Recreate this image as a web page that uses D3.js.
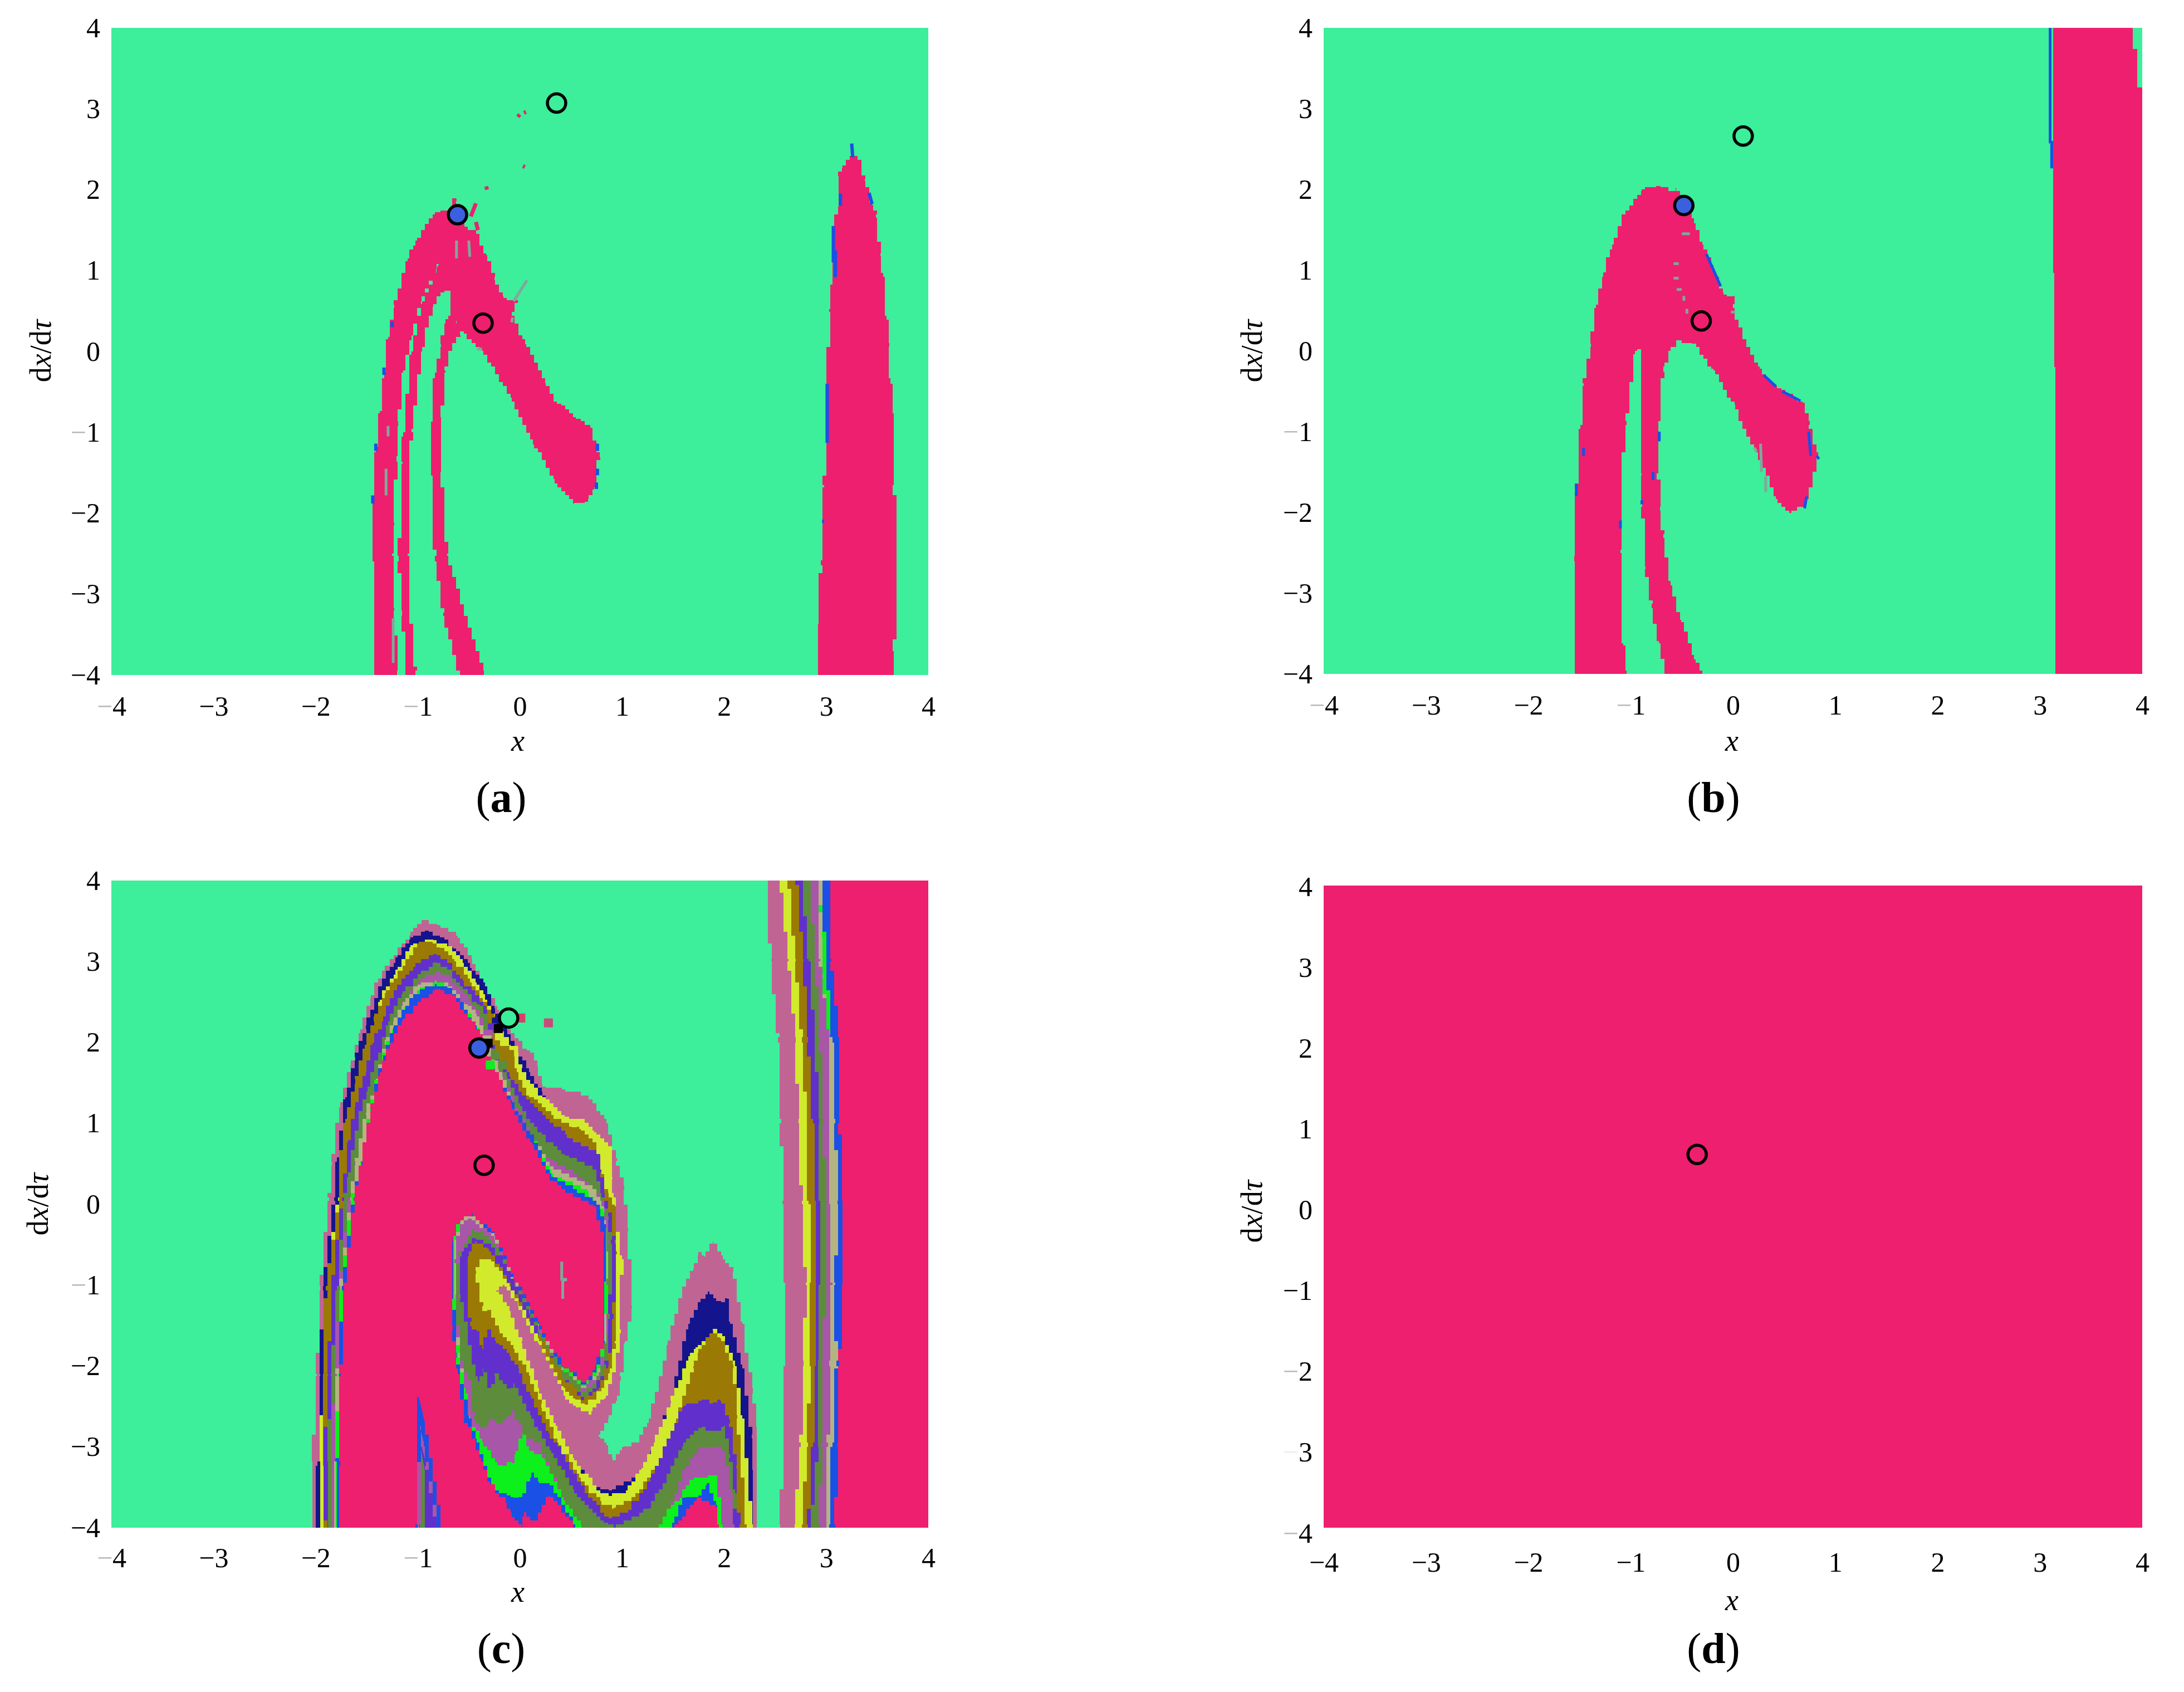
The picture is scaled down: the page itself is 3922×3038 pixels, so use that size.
<!DOCTYPE html>
<html>
<head>
<meta charset="utf-8">
<title>Basins of attraction</title>
<script src="https://cdn.jsdelivr.net/npm/d3@7"></script>
<style>
  html, body { margin: 0; padding: 0; background: #fff; }
  svg text { font-family: "Liberation Serif", "Times New Roman", serif; fill: #000; }
</style>
</head>
<body>
<div id="chart"></div>
<script>
var svgWidth = 3922;
var svgHeight = 3038;

var xTickValues = [-4, -3, -2, -1, 0, 1, 2, 3, 4];
var yTickValues = [4, 3, 2, 1, 0, -1, -2, -3, -4];

var green = "#3dee9a", pink = "#ee1f6e", blue = "#1a50e6", navy = "#14148c";
var brown = "#9a7a05", yellow = "#d2ea2c", purple = "#6130cc", olive = "#5c8c3c";
var orchid = "#a856a8", mauve = "#c06494", khaki = "#b4b482", lime = "#0cf01c";
var markerBlue = "#3a60e0", greyGreen = "#7fa89a";

// ---- panel (a), all in [x, dx/dtau] ----
var aBody = [[-1.42,-4],[-1.44,-2.53],[-1.44,-1.8],[-1.41,-1.18],[-1.37,-.74],[-1.33,-.26],[-1.29,.18],[-1.23,.58],[-1.16,.88],[-1.1,1.15],[-1.02,1.37],[-.93,1.58],[-.83,1.72],[-.68,1.76],[-.66,1.89],[-.62,1.86],[-.6,1.7],[-.54,1.54],[-.43,1.45],[-.33,1.19],[-.25,.88],[-.16,.66],[-.02,.6],[-.08,.44],[.05,.09],[.25,-.39],[.36,-.65],[.55,-.83],[.69,-.94],[.78,-1.31],[.73,-1.71],[.67,-1.86],[.53,-1.88],[.34,-1.58],[.13,-1.09],[-.08,-.57],[-.37,.03],[-.52,.22],[-.62,.38],[-.58,.18],[-.66,.09],[-.73,-.26],[-.77,-.87],[-.77,-1.49],[-.71,-2.53],[-.55,-3.23],[-.35,-4]];
var aThinGap = [[-.79,1.08],[-.96,.62],[-1.06,.14],[-1.14,-.26],[-1.19,-.92],[-1.21,-1.36],[-1.23,-2.15],[-1.25,-2.53],[-1.23,-3.2],[-1.2,-4],[-1.11,-4],[-1.154,-3.2],[-1.185,-2.53],[-1.15,-1.36],[-1.14,-1],[-1.06,0],[-.955,.62],[-.82,1.02]];
var aWideGap = [[-.68,.75],[-.73,.75],[-.85,.55],[-.955,0],[-1.06,-1],[-1.1,-2.53],[-1.08,-3.2],[-1.02,-4],[-.59,-4],[-.75,-3.23],[-.83,-2.53],[-.87,-1.49],[-.87,-.87],[-.83,-.26],[-.77,.09],[-.73,.4],[-.68,.49]];
var aRightLobe = [[2.92,-4],[2.92,-3.37],[2.95,-2.58],[2.98,-1.65],[3.0,-.93],[3.03,.52],[3.06,.85],[3.06,1.51],[3.12,1.84],[3.12,2.17],[3.16,2.3],[3.25,2.44],[3.31,2.4],[3.38,2.11],[3.45,1.81],[3.49,1.65],[3.53,1.18],[3.56,.92],[3.59,.39],[3.62,.06],[3.63,-.4],[3.66,-.8],[3.66,-1.65],[3.69,-2.05],[3.69,-3.24],[3.66,-3.76],[3.66,-4]];
var aBlueEdges = [[[-1.41,-1.14],[-1.41,-1.23]],[[-1.44,-1.78],[-1.44,-1.88]],[[-1.33,-.2],[-1.33,-.29]],[[-1.25,.37],[-1.25,.3]],[[.76,-1.14],[.76,-1.23]],[[.76,-1.45],[.76,-1.53]],[[.75,-1.62],[.75,-1.7]],[[3.07,1.55],[3.07,1.1]],[[3.09,1.25],[3.09,.92]],[[3.01,-.4],[3.01,-1.13]],[[3.25,2.57],[3.26,2.4]],[[3.42,1.96],[3.45,1.82]],[[3.14,1.95],[3.14,1.8]],[[2.96,-2.1],[2.98,-2.1]]];
var aGreyMarks = [[[-.62,1.37],[-.62,1.15]],[[-.5,1.37],[-.49,1.17]],[[-.06,.62],[.07,.88]],[[-.07,.42],[-.08,.36]],[[-.42,.03],[-.37,.03]],[[-1.29,-.92],[-1.29,-1.05]],[[-1.31,-1.45],[-1.31,-1.78]],[[-1.24,-3.3],[-1.24,-3.85]]];
var aPinkMarks = [[[-.33,2.04],[-.32,2.0]],[[-.43,1.83],[-.48,1.67]],[[.03,2.29],[.05,2.28]],[[-.02,2.9],[.0,2.93]],[[.04,2.95],[.06,2.96]],[[-.43,1.6],[-.41,1.5]]];
var aMarkers = [[.36, 3.07, green], [-.61, 1.69, markerBlue], [-.36, .35, pink]];

// ---- panel (b) ----
var bBody = [[-1.546,-4],[-1.55,-2.54],[-1.53,-1.71],[-1.49,-.92],[-1.46,-.4],[-1.39,.09],[-1.34,.57],[-1.27,.97],[-1.18,1.32],[-1.09,1.63],[-1.01,1.8],[-.89,2.0],[-.75,2.04],[-.61,1.98],[-.56,2.02],[-.47,1.85],[-.38,1.58],[-.3,1.32],[-.19,1.01],[-.09,.7],[.01,.68],[0,.53],[.09,.18],[.26,-.22],[.43,-.46],[.68,-.64],[.75,-.92],[.83,-1.32],[.78,-1.63],[.7,-1.93],[.57,-2.01],[.42,-1.8],[.23,-1.23],[.02,-.66],[-.19,-.22],[-.36,.09],[-.5,.13],[-.61,0],[-.68,-.26],[-.73,-.92],[-.73,-1.52],[-.715,-1.98],[-.68,-2.32],[-.634,-2.67],[-.607,-2.9],[-.507,-3.36],[-.38,-3.82],[-.298,-4]];
var bGap = [[-.9,.02],[-.96,-.04],[-1.04,-.92],[-1.09,-1.49],[-1.097,-2.5],[-1.088,-3.03],[-1.07,-3.65],[-1.042,-4],[-.643,-4],[-.725,-3.59],[-.797,-3.13],[-.852,-2.67],[-.888,-1.86],[-.89,-1.52],[-.9,-.48]];
var bRightBlock = [[3.13,4],[3.907,4],[3.907,3.74],[3.95,3.74],[3.95,3.26],[4,3.26],[4,-4],[3.15,-4],[3.15,-.2],[3.13,1]];
var bBlueEdges = [[[3.1,4],[3.1,2.57]],[[3.115,2.6],[3.115,2.26]],[[-1.53,-1.65],[-1.53,-1.8]],[[-1.46,-1.2],[-1.46,-1.3]],[[-.72,-1.0],[-.72,-1.12]],[[-.78,-1.5],[-.78,-1.6]],[[.74,-1.0],[.76,-1.3]],[[.82,-1.3],[.84,-1.34]],[[.72,-1.8],[.7,-1.95]],[[.3,-.3],[.42,-.44]],[[.48,-.5],[.66,-.62]],[[-.26,1.2],[-.12,.8]],[[-.89,-1.85],[-.89,-1.9]],[[-1.1,-2.1],[-1.1,-2.2]]];
var bGreyMarks = [[[-.5,1.45],[-.42,1.45]],[[-.58,1.08],[-.53,1.08]],[[-.58,.9],[-.53,.9]],[[-.55,.76],[-.5,.76]],[[-.48,.68],[-.48,.62]],[[-.45,.52],[-.45,.46]],[[-.02,.48],[.02,.48]],[[.21,-1.2],[.23,-1.25]],[[.27,-1.15],[.28,-1.5]],[[.32,-1.55],[.32,-1.75]]];
var bMarkers = [[.1, 2.66, green], [-.48, 1.8, markerBlue], [-.31, .37, pink]];

// ---- panel (c): nested level outlines, outermost first ----
var cMauveOutline = [[-2.03,-4],[-2.03,-3.18],[-1.99,-2.1],[-1.955,-1.01],[-1.87,.08],[-1.84,.52],[-1.76,1.26],[-1.66,1.71],[-1.56,2.16],[-1.46,2.58],[-1.32,2.95],[-1.07,3.37],[-.964,3.51],[-.81,3.45],[-.61,3.29],[-.465,2.97],[-.34,2.66],[-.22,2.4],[-.05,2.05],[.07,1.9],[.17,1.71],[.22,1.45],[.41,1.42],[.66,1.34],[.85,1.0],[.95,.53],[1.02,.18],[1.06,-.34],[1.1,-1.29],[1.03,-1.72],[.99,-2.18],[.95,-2.43],[.87,-2.65],[.77,-2.88],[.85,-2.98],[.91,-3.17],[1.0,-3.0],[1.14,-2.95],[1.26,-2.65],[1.4,-2.03],[1.45,-1.69],[1.59,-1.08],[1.7,-.8],[1.75,-.59],[1.8,-.65],[1.89,-.46],[1.99,-.68],[2.09,-.83],[2.18,-1.48],[2.28,-2.34],[2.32,-2.8],[2.32,-4]];
var cNavyOutline = [[-1.985,-4],[-1.98,-3.18],[-1.955,-2.1],[-1.93,-1.01],[-1.82,.08],[-1.79,.58],[-1.71,1.32],[-1.61,1.82],[-1.51,2.21],[-1.39,2.63],[-1.22,3.05],[-1.07,3.3],[-.93,3.38],[-.78,3.3],[-.65,3.16],[-.49,2.92],[-.34,2.69],[-.25,2.42],[-.12,2.1],[-.02,1.85],[.09,1.63],[.22,1.34],[.44,1.08],[.6,1.05],[.73,.89],[.9,.66],[.91,.31],[.92,.08],[.94,-.19],[1.0,-.68],[.99,-1.6],[.94,-2.03],[.84,-2.4],[.7,-2.6],[.55,-2.49],[.43,-2.3],[.19,-1.72],[-.02,-1.2],[-.15,-1.0],[-.23,-1.08],[-.1,-1.32],[.02,-1.72],[.19,-2.34],[.35,-2.77],[.53,-3.17],[.75,-3.5],[.87,-3.54],[1.16,-3.35],[1.28,-3.05],[1.48,-2.4],[1.65,-1.48],[1.77,-1.17],[1.84,-1.08],[1.92,-1.2],[2.03,-1.17],[2.06,-1.48],[2.18,-2.03],[2.27,-2.89],[2.28,-3.32],[2.28,-4]];
var cYellowOutline = [[-1.955,-4],[-1.955,-3.18],[-1.93,-2.1],[-1.9,-1.01],[-1.78,.08],[-1.77,.53],[-1.69,1.12],[-1.61,1.55],[-1.52,1.97],[-1.43,2.32],[-1.37,2.53],[-1.22,2.9],[-1.07,3.2],[-.99,3.24],[-.85,3.26],[-.71,3.19],[-.56,2.98],[-.42,2.71],[-.34,2.53],[-.17,2.05],[-.05,1.9],[.02,1.63],[.22,1.32],[.44,1.08],[.6,1.05],[.73,.89],[.9,.66],[.91,.31],[.92,.08],[.94,-.19],[1.0,-.68],[.99,-1.6],[.94,-2.03],[.84,-2.4],[.7,-2.6],[.55,-2.49],[.43,-2.3],[.19,-1.72],[-.02,-1.2],[-.15,-1.0],[-.23,-1.08],[-.1,-1.32],[.02,-1.72],[.19,-2.34],[.35,-2.74],[.53,-3.17],[.75,-3.54],[.87,-3.61],[1.04,-3.54],[1.19,-3.26],[1.31,-2.95],[1.48,-2.43],[1.65,-1.88],[1.72,-1.77],[1.89,-1.54],[1.98,-1.63],[2.11,-2.0],[2.18,-2.65],[2.28,-4]];
var cBrownOutline = [[-1.91,-4],[-1.93,-3.18],[-1.93,-2.1],[-1.9,-1.01],[-1.77,.08],[-1.77,.53],[-1.71,1.05],[-1.61,1.55],[-1.52,1.97],[-1.43,2.32],[-1.32,2.61],[-1.15,2.95],[-.99,3.24],[-.9,3.24],[-.78,3.17],[-.64,3.0],[-.49,2.74],[-.36,2.5],[-.25,2.32],[-.17,2.05],[-.1,1.92],[-.03,1.63],[.09,1.32],[.31,1.1],[.51,.95],[.58,.93],[.75,.74],[.8,.37],[.87,.08],[.93,-.03],[.95,-.62],[.93,-1.72],[.88,-2.09],[.8,-2.31],[.67,-2.48],[.54,-2.4],[.43,-2.25],[.19,-1.66],[.09,-1.42],[-.1,-.98],[-.25,-.71],[-.36,-.66],[-.43,-.86],[-.37,-1.32],[-.3,-1.31],[-.2,-1.6],[-.06,-1.79],[.09,-2.12],[.21,-2.52],[.38,-2.98],[.58,-3.38],[.8,-3.72],[.92,-3.75],[1.16,-3.57],[1.36,-3.17],[1.53,-2.65],[1.7,-2.0],[1.75,-1.79],[1.89,-1.56],[1.96,-1.66],[2.09,-2.03],[2.13,-2.65],[2.22,-4]];
var cPurpleOutline = [[-1.9,-4],[-1.92,-3.18],[-1.88,-2.1],[-1.845,-1.01],[-1.74,.08],[-1.68,.79],[-1.61,1.26],[-1.51,1.63],[-1.44,2.0],[-1.34,2.32],[-1.2,2.71],[-1.02,2.98],[-.85,3.09],[-.71,2.98],[-.56,2.76],[-.44,2.58],[-.33,2.4],[-.25,1.87],[-.1,1.58],[.02,1.34],[.22,1.1],[.46,.82],[.78,.6],[.8,.39],[.83,.08],[.9,-.2],[.93,-.49],[.92,-1.42],[.87,-2.0],[.77,-2.3],[.63,-2.42],[.48,-2.2],[.33,-1.9],[.19,-1.62],[-.01,-1.16],[-.2,-.74],[-.3,-.55],[-.42,-.46],[-.5,-.65],[-.49,-1.51],[-.42,-1.57],[-.37,-1.79],[-.32,-1.55],[-.23,-1.72],[-.1,-1.88],[-.01,-2.09],[.11,-2.4],[.28,-2.83],[.48,-3.23],[.67,-3.63],[.87,-3.88],[1.06,-3.78],[1.28,-3.38],[1.4,-3.05],[1.6,-2.49],[1.75,-2.43],[1.89,-2.45],[1.96,-2.43],[2.06,-2.71],[2.12,-3.26],[2.15,-4]];
var cOliveOutline = [[-1.88,-4],[-1.88,-3.18],[-1.85,-2.1],[-1.79,-1.01],[-1.72,.08],[-1.68,.39],[-1.58,1.05],[-1.49,1.45],[-1.39,1.84],[-1.29,2.26],[-1.15,2.63],[-1.0,2.84],[-.84,2.99],[-.71,2.9],[-.56,2.66],[-.42,2.47],[-.32,2.32],[-.25,1.84],[-.12,1.55],[0,1.21],[.17,.89],[.44,.6],[.75,.42],[.8,.08],[.87,-.2],[.89,-.49],[.88,-1.42],[.84,-2.03],[.75,-2.28],[.65,-2.38],[.43,-2.14],[.33,-1.88],[.19,-1.59],[.09,-1.3],[-.13,-.74],[-.28,-.49],[-.43,-.42],[-.57,-.65],[-.58,-1.17],[-.47,-1.88],[-.41,-2.19],[-.36,-2.03],[-.28,-2.34],[-.25,-2.09],[-.13,-2.28],[-.06,-2.22],[.11,-2.65],[.31,-3.08],[.53,-3.57],[.82,-3.94],[.92,-4],[1.06,-3.91],[1.26,-3.76],[1.4,-3.45],[1.6,-2.95],[1.75,-2.77],[1.89,-2.8],[2.0,-2.74],[2.06,-3.14],[2.11,-3.57],[2.1,-4]];
var cOrchidOutline = [[-1.855,-4],[-1.84,-3.18],[-1.82,-2.1],[-1.77,-1.01],[-1.68,.08],[-1.63,.3],[-1.56,.79],[-1.46,1.32],[-1.39,1.63],[-1.3,2.03],[-1.22,2.32],[-1.12,2.55],[-.98,2.79],[-.83,2.88],[-.68,2.79],[-.49,2.5],[-.39,2.37],[-.34,2.13],[-.25,1.82],[-.15,1.53],[-.05,1.26],[.12,.82],[.29,.55],[.61,.31],[.78,.08],[.84,-.1],[.87,-.49],[.86,-1.42],[.82,-2.0],[.74,-2.22],[.65,-2.32],[.48,-2.08],[.31,-1.72],[.19,-1.54],[.11,-1.26],[-.1,-.71],[-.3,-.4],[-.45,-.3],[-.6,-.65],[-.62,-1.17],[-.59,-1.91],[-.47,-2.28],[-.45,-2.65],[-.37,-2.77],[-.3,-2.65],[-.2,-2.71],[-.08,-2.55],[-.01,-2.68],[.05,-2.9],[.19,-2.95],[.38,-3.54],[.58,-4]];
var cOrchidMound = [[1.36,-4],[1.48,-3.72],[1.62,-3.26],[1.75,-3.0],[1.89,-3.0],[2.0,-3.05],[2.07,-3.57],[2.1,-4]];
var cKhakiOutline = [[-1.82,-4],[-1.82,-3.18],[-1.79,-2.1],[-1.76,-1.01],[-1.66,.08],[-1.61,.53],[-1.51,1.13],[-1.41,1.55],[-1.32,2.03],[-1.24,2.26],[-1.15,2.5],[-1.0,2.71],[-.83,2.76],[-.71,2.74],[-.54,2.47],[-.42,2.32],[-.27,1.84],[-.17,1.58],[-.05,1.18],[.07,.89],[.17,.74],[.29,.47],[.56,.29],[.75,.16],[.8,-.03],[.84,-.25],[.85,-.96],[.85,-1.72],[.77,-2.12],[.65,-2.27],[.43,-2.05],[.19,-1.5],[-.04,-.95],[-.25,-.39],[-.47,-.18],[-.6,-.33],[-.64,-.73],[-.63,-1.17],[-.6,-1.8],[-.53,-2.34],[-.49,-2.65],[-.37,-2.95],[-.22,-3.23],[-.08,-3.2],[-.04,-3.05],[.02,-2.83],[.09,-3.05],[.24,-3.17],[.43,-3.66],[.6,-4]];
var cLimeOutline = [[-1.8,-4],[-1.8,-3.18],[-1.78,-2.1],[-1.75,-1.01],[-1.65,.08],[-1.56,.53],[-1.47,1.2],[-1.35,1.84],[-1.25,2.16],[-1.13,2.44],[-.98,2.68],[-.83,2.75],[-.71,2.7],[-.52,2.38],[-.43,2.18],[-.27,1.72],[-.08,1.26],[.14,.78],[.31,.38],[.41,.3],[.66,.16],[.72,.02],[.82,-.1],[.85,-.35],[.85,-1.0],[.84,-1.72],[.76,-2.1],[.65,-2.25],[.43,-2.03],[.19,-1.49],[-.05,-.92],[-.25,-.36],[-.47,-.135],[-.58,-.24],[-.64,-.5],[-.64,-1.17],[-.6,-1.9],[-.53,-2.34],[-.49,-2.65],[-.37,-2.95],[-.22,-3.23],[-.08,-3.2],[-.04,-3.05],[.02,-2.83],[.09,-3.05],[.24,-3.17],[.43,-3.66],[.6,-4]];
var cLimeMound = [[1.33,-4],[1.48,-3.72],[1.57,-3.63],[1.66,-3.41],[1.84,-3.35],[1.92,-3.35],[1.99,-4]];
var cBlueOutline = [[-1.79,-4],[-1.79,-3.18],[-1.77,-2.1],[-1.74,-1.01],[-1.63,.08],[-1.55,.53],[-1.46,1.21],[-1.34,1.84],[-1.24,2.18],[-1.12,2.45],[-.98,2.66],[-.83,2.72],[-.71,2.67],[-.51,2.37],[-.42,2.16],[-.27,1.68],[-.08,1.26],[.14,.76],[.31,.34],[.68,.08],[.78,-.06],[.84,-.3],[.84,-.96],[.83,-1.72],[.75,-2.08],[.65,-2.23],[.43,-2.01],[.19,-1.48],[-.06,-.9],[-.25,-.36],[-.47,-.13],[-.58,-.22],[-.65,-.46],[-.65,-1.17],[-.62,-1.9],[-.55,-2.34],[-.5,-2.65],[-.42,-2.95],[-.25,-3.54],[-.13,-3.6],[-.06,-3.63],[.05,-3.57],[.11,-3.32],[.19,-3.45],[.28,-3.45],[.48,-3.84],[.54,-4]];
var cBlueMound = [[1.49,-4],[1.49,-3.94],[1.59,-3.63],[1.75,-3.6],[1.83,-3.45],[1.92,-3.72],[1.94,-4]];
var cPinkOutline = [[-1.764,-4],[-1.76,-3.18],[-1.755,-2.1],[-1.72,-1.01],[-1.62,.08],[-1.54,.66],[-1.46,1.18],[-1.37,1.63],[-1.27,2.0],[-1.15,2.29],[-1.0,2.5],[-.83,2.66],[-.66,2.58],[-.51,2.29],[-.39,2.1],[-.25,1.66],[-.08,1.18],[.12,.74],[.29,.29],[.56,.08],[.72,-.03],[.82,-.43],[.82,-1.0],[.82,-1.72],[.74,-2.05],[.65,-2.2],[.43,-2.0],[.19,-1.45],[-.06,-.86],[-.25,-.34],[-.46,-.115],[-.58,-.22],[-.655,-.46],[-.66,-1.17],[-.655,-1.55],[-.61,-2.1],[-.545,-2.64],[-.38,-3.18],[-.29,-3.46],[-.14,-3.69],[-.08,-3.87],[.02,-4]];
var cPinkPatch = [[.03,-4],[.04,-3.81],[.14,-3.94],[.21,-3.78],[.28,-3.6],[.48,-3.9],[.52,-4]];
var cPinkMound = [[1.5,-4],[1.73,-3.63],[1.92,-3.75],[1.95,-4]];

// wedge near x = -1, drawn over the pink
var cWedgeBlue = [[-.99,-2.38],[-1.02,-4],[-.755,-4],[-.93,-2.7]];
var cWedgeOrchid = [[-.98,-2.75],[-1.0,-4],[-.79,-4],[-.94,-2.95]];
var cWedgePurple = [[-.96,-3.0],[-.985,-4],[-.81,-4],[-.92,-3.2]];
var cWedgeOlive = [[-.965,-3.05],[-.98,-4],[-.91,-4],[-.93,-3.3]];

// vertical stripes on the right of (c): left edge of each stripe at rightBandYs
var rightBandYs = [4, 3, 2, 1, 0, -1, -2, -3, -4];
var rightMauve = [2.41, 2.46, 2.53, 2.56, 2.57, 2.6, 2.6, 2.58, 2.55];
var rightYellow = [2.55, 2.63, 2.7, 2.73, 2.76, 2.8, 2.78, 2.75, 2.69];
var rightBrown = [2.63, 2.7, 2.76, 2.81, 2.83, 2.84, 2.84, 2.82, 2.76];
var rightPurple = [2.71, 2.78, 2.82, 2.87, 2.9, 2.9, 2.9, 2.87, 2.82];
var rightOlive = [2.76, 2.83, 2.89, 2.93, 2.94, 2.94, 2.92, 2.92, 2.85];
var rightOrchid = [2.84, 2.89, 2.94, 2.97, 3.0, 3.0, 2.96, 2.95, 2.94];
var rightKhaki = [2.93, 2.94, 3.03, 3.03, 3.03, 3.06, 3.03, 3.02, 3.0];
var rightBlue = [2.95, 3.0, 3.06, 3.09, 3.11, 3.09, 3.1, 3.06, 3.03];
var rightPink = [3.03, 3.05, 3.13, 3.13, 3.16, 3.16, 3.13, 3.11, 3.09];
var rightLimePatch = [[2.94,3.7],[2.96,3.3],[2.97,2.8],[3.0,2.3],[3.03,2.1],[3.05,2.3],[3.03,2.8],[3.0,3.3],[2.97,3.7]];
var cNoiseMark = [[[.41,-.71],[.41,-.93],[.46,-.93],[.42,-.95],[.42,-1.17]]];
// single cells: x, y, colour
var cCells = [[-.23,2.25,navy],[-.2,2.26,navy],[-.27,2.18,purple],[-.31,2.1,orchid],[-.32,2.03,khaki],[-.2,2.08,yellow],[-.15,2.01,yellow],[-.06,1.9,yellow],[-.1,1.85,brown],[-.24,1.84,olive],[-.17,1.72,olive],[-.29,1.72,lime],[.01,2.3,"#d8406a"],[.28,2.24,"#c84a78"],[-.21,2.17,"#000"],[-.31,1.99,"#000"]];
var cMarkers = [[-.11, 2.3, green], [-.4, 1.93, markerBlue], [-.35, .48, pink]];

// ---- panel (d) ----
var dMarkers = [[-.35, .65, pink]];

var panels = [
  { name: "a", left: 200, top: 50, right: 1667, bottom: 1212, background: green,
    yAxisTop: 50, yAxisBottom: 1212, xPad: 37, titleY: 1332, subY: 1458, subX: 900, xTitleX: 930, yTitleX: 75, yTitleY: 630,
    faintX: [-4, -1], faintY: [-1] },
  { name: "b", left: 2377, top: 50, right: 3847, bottom: 1210, background: green,
    yAxisTop: 50, yAxisBottom: 1210, xPad: 37, titleY: 1332, subY: 1458, subX: 3077, xTitleX: 3110, yTitleX: 2250, yTitleY: 630,
    faintX: [-4, -1], faintY: [-1] },
  { name: "c", left: 200, top: 1581, right: 1667, bottom: 2743, background: green,
    yAxisTop: 1581, yAxisBottom: 2743, xPad: 35, titleY: 2860, subY: 2986, subX: 900, xTitleX: 930, yTitleX: 70, yTitleY: 2162,
    faintX: [-4, -1], faintY: [-1] },
  { name: "d", left: 2377, top: 1590, right: 3847, bottom: 2743, background: pink,
    yAxisTop: 1592, yAxisBottom: 2753, xPad: 43, titleY: 2875, subY: 2986, subX: 3077, xTitleX: 3110, yTitleX: 2250, yTitleY: 2175,
    faintX: [], faintY: [-2, -3, -4] }
];

var cellSize = 7;

// the original is a coarse raster, so the outlines are stepped cell by cell
function curveCells(context) {
  var x0, y0, started = false;
  function snap(v) { return Math.round(v / cellSize) * cellSize; }
  return {
    lineStart: function() { started = false; },
    lineEnd: function() {},
    point: function(x, y) {
      if (!started) {
        context.moveTo(x, y);
        started = true;
      } else {
        var dx = x - x0, dy = y - y0;
        var n = Math.ceil(Math.max(Math.abs(dx), Math.abs(dy)) / cellSize);
        var lastY = y0;
        for (var i = 1; i < n; i++) {
          var px = dx == 0 ? x : snap(x0 + dx * i / n);
          var py = dy == 0 ? y : snap(y0 + dy * i / n);
          context.lineTo(px, lastY);
          context.lineTo(px, py);
          lastY = py;
        }
        context.lineTo(x, lastY);
        context.lineTo(x, y);
      }
      x0 = x;
      y0 = y;
    }
  };
}

var svg = d3.select("#chart")
  .append("svg")
  .attr("width", svgWidth)
  .attr("height", svgHeight)
  .style("display", "block");

function bandPolygon(edges) {
  var pts = edges.map(function(e, i) { return [e, rightBandYs[i]]; });
  pts.push([4, -4]);
  pts.push([4, 4]);
  return pts;
}

function panelLayers(name) {
  // fills painted in order, each [points, colour]
  if (name == "a") return [[aBody, pink], [aThinGap, green], [aWideGap, green], [aRightLobe, pink]];
  if (name == "b") return [[bBody, pink], [bGap, green], [bRightBlock, pink]];
  if (name == "c") return [
    [bandPolygon(rightMauve), mauve], [bandPolygon(rightYellow), yellow], [bandPolygon(rightBrown), brown],
    [bandPolygon(rightPurple), purple], [bandPolygon(rightOlive), olive], [bandPolygon(rightOrchid), orchid],
    [bandPolygon(rightKhaki), khaki], [rightLimePatch, lime], [bandPolygon(rightBlue), blue], [bandPolygon(rightPink), pink],
    [cMauveOutline, mauve], [cNavyOutline, navy], [cYellowOutline, yellow], [cBrownOutline, brown],
    [cPurpleOutline, purple], [cOliveOutline, olive], [cOrchidOutline, orchid], [cOrchidMound, orchid],
    [cKhakiOutline, khaki], [cLimeOutline, lime], [cLimeMound, lime], [cBlueOutline, blue], [cBlueMound, blue],
    [cPinkOutline, pink], [cPinkPatch, pink], [cPinkMound, pink],
    [cWedgeBlue, blue], [cWedgeOrchid, orchid], [cWedgePurple, purple], [cWedgeOlive, olive]
  ];
  return [];
}

function panelMarks(name) {
  // thin streaks, each [lines, colour, width]
  if (name == "a") return [[aBlueEdges, blue, 6], [aGreyMarks, greyGreen, 5], [aPinkMarks, pink, 7]];
  if (name == "b") return [[bBlueEdges, blue, 5], [bGreyMarks, greyGreen, 5]];
  if (name == "c") return [[cNoiseMark, greyGreen, 5]];
  return [];
}

var markerSets = { a: aMarkers, b: bMarkers, c: cMarkers, d: dMarkers };

panels.forEach(function(p) {
  var xScale = d3.scaleLinear().domain([-4, 4]).range([p.left, p.right]);
  var yScale = d3.scaleLinear().domain([-4, 4]).range([p.bottom, p.top]);
  var yLabelScale = d3.scaleLinear().domain([-4, 4]).range([p.yAxisBottom, p.yAxisTop]);

  var clipId = "clip-" + p.name;
  svg.append("clipPath").attr("id", clipId)
    .append("rect")
    .attr("x", p.left).attr("y", p.top)
    .attr("width", p.right - p.left).attr("height", p.bottom - p.top);

  var plot = svg.append("g").attr("clip-path", "url(#" + clipId + ")");

  plot.append("rect")
    .attr("x", p.left).attr("y", p.top)
    .attr("width", p.right - p.left).attr("height", p.bottom - p.top)
    .attr("fill", p.background);

  var line = d3.line().x(function(d) { return xScale(d[0]); }).y(function(d) { return yScale(d[1]); });
  var cellLine = d3.line().curve(curveCells).x(function(d) { return xScale(d[0]); }).y(function(d) { return yScale(d[1]); });

  panelLayers(p.name).forEach(function(layer) {
    plot.append("path")
      .attr("d", cellLine(layer[0]) + "Z")
      .attr("fill", layer[1])
      .attr("shape-rendering", "crispEdges");
  });

  panelMarks(p.name).forEach(function(mark) {
    plot.append("g").selectAll("path")
      .data(mark[0])
      .enter()
      .append("path")
      .attr("d", function(d) { return line(d); })
      .attr("fill", "none")
      .attr("stroke", mark[1])
      .attr("stroke-width", mark[2]);
  });

  if (p.name == "c") {
    plot.append("g").selectAll("rect")
      .data(cCells)
      .enter()
      .append("rect")
      .attr("x", function(d) { return xScale(d[0]) - 8; })
      .attr("y", function(d) { return yScale(d[1]) - 8; })
      .attr("width", 16)
      .attr("height", 16)
      .attr("fill", function(d) { return d[2]; });
  }

  plot.append("g").selectAll("circle")
    .data(markerSets[p.name])
    .enter()
    .append("circle")
    .attr("cx", function(d) { return xScale(d[0]); })
    .attr("cy", function(d) { return yScale(d[1]); })
    .attr("r", 16.5)
    .attr("fill", function(d) { return d[2]; })
    .attr("stroke", "#000")
    .attr("stroke-width", 5.5);

  // axes: no lines, only labels
  var xAxis = svg.append("g")
    .attr("transform", "translate(0," + p.bottom + ")")
    .call(d3.axisBottom(xScale).tickValues(xTickValues).tickSize(0).tickPadding(p.xPad));
  var yAxis = svg.append("g")
    .attr("transform", "translate(" + p.left + ",0)")
    .call(d3.axisLeft(yLabelScale).tickValues(yTickValues).tickSize(0).tickPadding(20));

  [xAxis, yAxis].forEach(function(axis) {
    axis.select(".domain").remove();
    axis.selectAll("text").style("font-size", "50px").style("font-family", "'Liberation Serif', serif");
  });

  // some minus signs are almost invisible in the original
  function fadeMinus(axis, values) {
    axis.selectAll(".tick text").each(function(d) {
      if (values.indexOf(d) < 0) return;
      var t = d3.select(this);
      var label = t.text();
      t.text(null);
      t.append("tspan").style("fill", d == -3 ? "#eeeeee" : "#b8b8b8").text(label.charAt(0));
      t.append("tspan").text(label.slice(1));
    });
  }
  fadeMinus(xAxis, p.faintX);
  fadeMinus(yAxis, p.faintY);

  // axis titles
  var xTitle = svg.append("text")
    .attr("x", p.xTitleX)
    .attr("y", p.titleY + 16)
    .attr("text-anchor", "middle")
    .style("font-size", "54px");
  xTitle.append("tspan").style("font-style", "italic").text("x");

  var yTitle = svg.append("text")
    .attr("transform", "translate(" + (p.yTitleX + 16) + "," + p.yTitleY + ") rotate(-90)")
    .attr("text-anchor", "middle")
    .style("font-size", "54px");
  yTitle.append("tspan").text("d");
  yTitle.append("tspan").style("font-style", "italic").text("x");
  yTitle.append("tspan").text("/d");
  yTitle.append("tspan").style("font-style", "italic").text("τ");

  // panel letter
  var sub = svg.append("text")
    .attr("x", p.subX)
    .attr("y", p.subY)
    .attr("text-anchor", "middle")
    .style("font-size", "78px");
  sub.append("tspan").text("(");
  sub.append("tspan").style("font-weight", "bold").text(p.name);
  sub.append("tspan").text(")");
});
</script>
</body>
</html>
